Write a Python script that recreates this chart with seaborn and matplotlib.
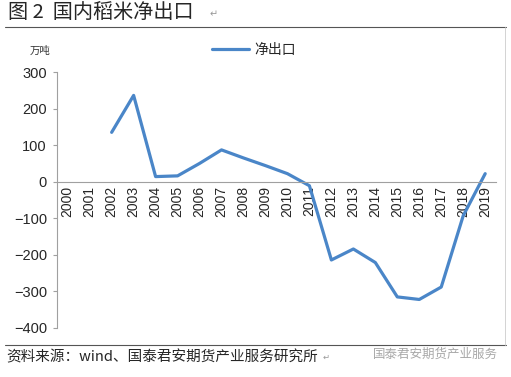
import numpy as np
import seaborn as sns
import matplotlib.pyplot as plt
from matplotlib.lines import Line2D

# 数据 (万吨)
years = list(range(2000, 2020))
net_export = [np.nan, np.nan, 135, 236, 14, 16, 50, 87, 65, 44, 22, -11,
              -214, -184, -221, -315, -322, -288, -93, 22]
yticks = [300, 200, 100, 0, -100, -200, -300, -400]

sns.set_theme(style='white')
plt.rcParams['font.family'] = ['Liberation Sans', 'Noto Sans CJK SC', 'DejaVu Sans']
cjk = ['Noto Sans CJK SC', 'DejaVu Sans']

fig = plt.figure(figsize=(5.11, 3.77), dpi=100)
ax = fig.add_axes([0.111, 0.13, 0.86, 0.679])

sns.lineplot(x=years, y=net_export, ax=ax, color='#4a86c8', linewidth=2.3,
             label='净出口', legend=False)

ax.set_xlim(1999.5, 2019.5)
ax.set_ylim(-400, 300)
ax.set_yticks(yticks)
ax.set_yticklabels([str(v).replace('-', '\u2212') for v in yticks], fontsize=10.5)

# x 轴放在 0 位置, 刻度在类别之间
ax.spines['bottom'].set_position(('data', 0))
for s in ['top', 'right']:
    ax.spines[s].set_visible(False)
for s in ['left', 'bottom']:
    ax.spines[s].set_color('#a0a0a0')
    ax.spines[s].set_linewidth(0.8)
ax.set_xticks([y + 0.5 for y in years[:-1]], minor=False)
ax.set_xticklabels([])
ax.set_xticks(years, minor=True)
ax.set_xticklabels([str(y) for y in years], minor=True, rotation=90, fontsize=10)
ax.tick_params(axis='x', which='major', direction='in', length=4, color='#a0a0a0', width=0.8)
ax.tick_params(axis='x', which='minor', length=0, pad=3)
ax.tick_params(axis='y', direction='out', length=3, color='#a0a0a0', width=0.8, pad=4, left=True)
ax.set_xlabel('')
ax.set_ylabel('')

# 图例
ax.legend(handles=[Line2D([0], [0], color='#4a86c8', lw=2.3)], labels=['净出口'],
          loc='center', bbox_to_anchor=(0.449, 1.085), frameon=False,
          prop={'family': cjk, 'size': 10}, handlelength=2.6, handletextpad=0.4)

fig.text(0.058, 0.858, '万吨', fontsize=7.5, family=cjk, color='#333333')

# 标题与来源
fig.text(0.015, 0.965, '图 2  国内稻米净出口', fontsize=14.5, family=cjk, va='center')
fig.text(0.41, 0.962, '↵', fontsize=7, family=['DejaVu Sans'], color='#999999', va='center')
fig.add_artist(Line2D([0.01, 0.99], [0.928, 0.928], color='#555555', lw=0.8))
fig.add_artist(Line2D([0.01, 0.99], [0.085, 0.085], color='#555555', lw=0.8))
fig.add_artist(Line2D([0.988, 0.988], [0.085, 0.928], color='#cccccc', lw=0.6))
fig.text(0.012, 0.052, '资料来源：wind、国泰君安期货产业服务研究所', fontsize=10.5,
         family=cjk, va='center')
fig.text(0.632, 0.052, '↵', fontsize=6, family=['DejaVu Sans'], color='#999999', va='center')
fig.text(0.73, 0.06, '国泰君安期货产业服务', fontsize=9, family=cjk,
         color='#a8a8a8', va='center')

fig.savefig('out.png', dpi=100)
